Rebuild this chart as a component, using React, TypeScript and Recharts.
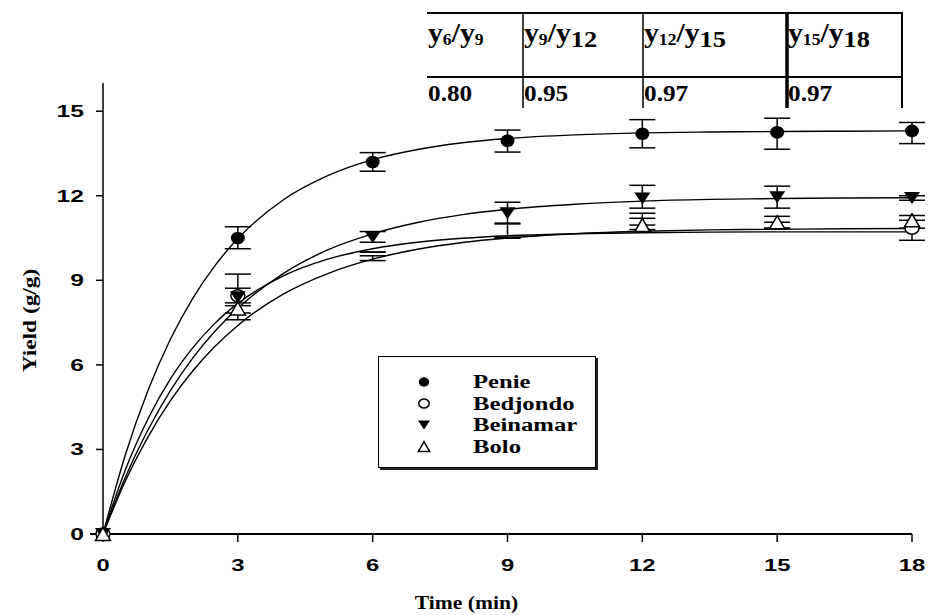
import React from 'react';
import { ComposedChart, Line, Scatter, XAxis, YAxis, ErrorBar, Legend, Label } from 'recharts';

// ---- fitted curves ----
const fitTimes = [0, 0.5, 1, 1.5, 2, 2.5, 3, 4, 5, 6, 7, 8, 9, 10.5, 12, 13.5, 15, 16.5, 18];
const penieFit = [0, 2.82, 5.09, 6.91, 8.37, 9.54, 10.48, 11.84, 12.71, 13.28, 13.64, 13.88, 14.03, 14.16, 14.23, 14.26, 14.28, 14.29, 14.3];
const bedjondoFit = [0, 2.29, 4.08, 5.5, 6.61, 7.49, 8.18, 9.15, 9.75, 10.12, 10.35, 10.49, 10.58, 10.65, 10.69, 10.71, 10.72, 10.72, 10.72];
const beinamarFit = [0, 2.02, 3.69, 5.09, 6.25, 7.21, 8.01, 9.23, 10.08, 10.65, 11.05, 11.33, 11.52, 11.7, 11.81, 11.87, 11.9, 11.92, 11.93];
const boloFit = [0, 1.89, 3.44, 4.73, 5.79, 6.67, 7.4, 8.5, 9.24, 9.75, 10.1, 10.34, 10.5, 10.65, 10.74, 10.79, 10.81, 10.83, 10.84];

// ---- observations ----
const obsTimes = [0, 3, 6, 9, 12, 15, 18];
const penieObs = [0, 10.5, 13.2, 13.95, 14.2, 14.25, 14.3];
const penieErrLow = [0, 0.38, 0.33, 0.4, 0.5, 0.6, 0.45];
const penieErrHigh = [0, 0.4, 0.33, 0.38, 0.5, 0.5, 0.3];
const penieShown = [true, true, true, true, true, true, true];

const bedjondoObs = [0, 8.45, 10.0, 10.53, 10.8, 10.85, 10.85];
const bedjondoErrLow = [0, 0.85, 0, 0, 0, 0, 0.43];
const bedjondoErrHigh = [0, 0.77, 0, 0.5, 0.4, 0, 0];
const bedjondoShown = [true, true, false, false, false, false, true];

const beinamarObs = [0, 8.4, 10.53, 11.38, 11.9, 11.95, 11.92];
const beinamarErrLow = [0, 0.3, 0.18, 0.38, 0.34, 0.39, 0.08];
const beinamarErrHigh = [0, 0.32, 0.2, 0.39, 0.47, 0.39, 0.08];
const beinamarShown = [true, true, true, true, true, true, true];

const boloObs = [0, 8.0, 9.7, 10.5, 10.96, 11.06, 11.13];
const boloErrLow = [0, 0.16, 0, 0, 0, 0, 0];
const boloErrHigh = [0, 0.2, 0.17, 0, 0.42, 0.21, 0.17];
const boloShown = [true, true, false, false, true, true, true];

const seriesNames = ['Penie', 'Bedjondo', 'Beinamar', 'Bolo'];
const xTicks = [0, 3, 6, 9, 12, 15, 18];
const yTicks = [0, 3, 6, 9, 12, 15];

// ---- ratio table ----
const ratioNum = ['6', '9', '12', '15'];
const ratioDen = ['9', '12', '15', '18'];
const ratioValues = ['0.80', '0.95', '0.97', '0.97'];

const fitData = fitTimes.map((t, i) => ({
  t,
  Penie: penieFit[i],
  Bedjondo: bedjondoFit[i],
  Beinamar: beinamarFit[i],
  Bolo: boloFit[i],
}));

const mkObs = (vals: number[], lo: number[], hi: number[], shown: boolean[]) =>
  obsTimes.map((t, i) => ({ t, y: vals[i], err: [lo[i], hi[i]], show: shown[i] }));

const penieData = mkObs(penieObs, penieErrLow, penieErrHigh, penieShown);
const bedjondoData = mkObs(bedjondoObs, bedjondoErrLow, bedjondoErrHigh, bedjondoShown);
const beinamarData = mkObs(beinamarObs, beinamarErrLow, beinamarErrHigh, beinamarShown);
const boloData = mkObs(boloObs, boloErrLow, boloErrHigh, boloShown);

const SERIF = "'Liberation Serif', 'Times New Roman', serif";
const SANS = "'Liberation Sans', Arial, sans-serif";

type Kind = 'filledCircle' | 'openCircle' | 'downTri' | 'upTri';

function Marker({ kind, cx, cy, s = 1 }: { kind: Kind; cx: number; cy: number; s?: number }) {
  if (kind === 'filledCircle') return <ellipse cx={cx} cy={cy} rx={7 * s} ry={6.3 * s} fill="#000" />;
  if (kind === 'openCircle')
    return <ellipse cx={cx} cy={cy} rx={7 * s} ry={6 * s} fill="#fff" stroke="#000" strokeWidth={1.5} />;
  if (kind === 'downTri') {
    const w = 8 * s, h = 6 * s;
    return <path d={`M${cx - w},${cy - h}L${cx + w},${cy - h}L${cx},${cy + h}Z`} fill="#000" />;
  }
  const w = 7.5 * s, h = 6.5 * s;
  return (
    <path d={`M${cx - w},${cy + h}L${cx + w},${cy + h}L${cx},${cy - h}Z`} fill="#fff" stroke="#000" strokeWidth={1.5} />
  );
}

const makeShape = (kind: Kind) => (props: any) => {
  const { cx, cy, payload } = props;
  if (!payload || !payload.show || cx == null || cy == null) return <g />;
  return <Marker kind={kind} cx={cx} cy={cy} />;
};

const kinds: Kind[] = ['filledCircle', 'openCircle', 'downTri', 'upTri'];

function YTick(props: any) {
  const { x, y, payload } = props;
  return (
    <g transform={`translate(${x - 10},${y})`}>
      <text x={0} y={0} dy={6} textAnchor="end" transform="scale(1.45,1)" fontFamily={SANS} fontWeight="bold" fontSize={17} fill="#000">
        {payload.value}
      </text>
    </g>
  );
}

function XTick(props: any) {
  const { x, y, payload } = props;
  return (
    <g transform={`translate(${x},${y})`}>
      <text x={0} y={0} dy={27} textAnchor="middle" transform="scale(1.4,1)" fontFamily={SANS} fontWeight="bold" fontSize={17} fill="#000">
        {payload.value}
      </text>
    </g>
  );
}

function LegendBox() {
  return (
    <div
      style={{
        width: 218,
        height: 112,
        border: '1px solid #000',
        boxShadow: '2px 2px 0 #222',
        background: '#fff',
        boxSizing: 'border-box',
      }}
    >
      <svg width={216} height={110}>
        {seriesNames.map((name, i) => {
          const cy = 25 + i * 21.5;
          return (
            <g key={name}>
              <Marker kind={kinds[i]} cx={45} cy={cy} s={0.75} />
              <text
                transform={`translate(94,${cy + 6}) scale(1.3,1)`}
                fontFamily={SERIF}
                fontWeight="bold"
                fontSize={19}
                fill="#000"
              >
                {name}
              </text>
            </g>
          );
        })}
      </svg>
    </div>
  );
}

const colX = [427, 523, 643, 787];
const tableRight = 902;

function RatioTable() {
  return (
    <svg width={928} height={120} style={{ position: 'absolute', left: 0, top: 0, pointerEvents: 'none' }}>
      <line x1={427} y1={13} x2={tableRight} y2={13} stroke="#000" strokeWidth={2} />
      <line x1={427} y1={77} x2={tableRight} y2={77} stroke="#000" strokeWidth={2} />
      <line x1={523} y1={12} x2={523} y2={108} stroke="#000" strokeWidth={1.5} />
      <line x1={643} y1={12} x2={643} y2={108} stroke="#000" strokeWidth={1.5} />
      <line x1={787} y1={12} x2={787} y2={108} stroke="#000" strokeWidth={3.5} />
      <line x1={tableRight} y1={12} x2={tableRight} y2={108} stroke="#000" strokeWidth={2} />
      {ratioNum.map((n, i) => {
        const big = i > 0;
        return (
          <text
            key={'h' + i}
            transform={`translate(${colX[i] + 1},42) scale(1.1,1)`}
            fontFamily={SERIF}
            fontWeight="bold"
            fontSize={27}
            fill="#000"
          >
            <tspan>y</tspan>
            <tspan fontSize={16} dy={3}>{n}</tspan>
            <tspan dy={-3}>/</tspan>
            <tspan>y</tspan>
            <tspan fontSize={big ? 24 : 16} dy={big ? 5 : 3}>{ratioDen[i]}</tspan>
          </text>
        );
      })}
      {ratioValues.map((v, i) => (
        <text
          key={'v' + i}
          transform={`translate(${colX[i] + 1},101) scale(1.1,1)`}
          fontFamily={SERIF}
          fontWeight="bold"
          fontSize={23}
          fill="#000"
        >
          {v}
        </text>
      ))}
    </svg>
  );
}

export default function App() {
  return (
    <div style={{ position: 'absolute', left: 0, top: 0, width: 928, height: 615, background: '#fff' }}>
      <ComposedChart width={928} height={615} data={fitData} margin={{ top: 83, right: 16, bottom: 21, left: 43 }}>
        <XAxis
          dataKey="t"
          type="number"
          domain={[0, 18]}
          ticks={xTicks}
          interval={0}
          height={60}
          stroke="#000"
          strokeWidth={2}
          tickSize={8}
          tickLine={{ stroke: '#000', strokeWidth: 1.5 }}
          tick={<XTick />}
        >
          <Label
            content={(p: any) => {
              const vb = p.viewBox || { x: 103, y: 534, width: 809 };
              const cx = vb.x + vb.width / 2 - 41;
              return (
                <text
                  transform={`translate(${cx},${vb.y + 75}) scale(1.2,1)`}
                  textAnchor="middle"
                  fontFamily={SERIF}
                  fontWeight="bold"
                  fontSize={18}
                  fill="#000"
                >
                  Time (min)
                </text>
              );
            }}
          />
        </XAxis>
        <YAxis
          type="number"
          domain={[0, 16]}
          ticks={yTicks}
          interval={0}
          width={60}
          stroke="#000"
          strokeWidth={1.5}
          tickSize={7}
          tickLine={{ stroke: '#000', strokeWidth: 1.5 }}
          tick={<YTick />}
        >
          <Label
            content={(p: any) => {
              const vb = p.viewBox || { x: 43, y: 83, height: 451 };
              const cy = vb.y + vb.height / 2 + 12;
              return (
                <text
                  transform={`translate(36,${cy}) rotate(-90) scale(1.3,1)`}
                  textAnchor="middle"
                  fontFamily={SERIF}
                  fontWeight="bold"
                  fontSize={18}
                  fill="#000"
                >
                  Yield (g/g)
                </text>
              );
            }}
          />
        </YAxis>
        <Legend
          layout="horizontal"
          verticalAlign="middle"
          align="center"
          wrapperStyle={{ left: 378, top: 356, width: 220, height: 114 }}
          content={() => <LegendBox />}
        />
        {seriesNames.map((name) => (
          <Line
            key={'l' + name}
            type="monotone"
            dataKey={name}
            stroke="#000"
            strokeWidth={1.4}
            dot={false}
            activeDot={false}
            isAnimationActive={false}
            legendType="none"
          />
        ))}
        <Scatter name="Penie" data={penieData} dataKey="y" shape={makeShape('filledCircle')} isAnimationActive={false}>
          <ErrorBar dataKey="err" direction="y" width={13} stroke="#000" strokeWidth={1.5} />
        </Scatter>
        <Scatter name="Bedjondo" data={bedjondoData} dataKey="y" shape={makeShape('openCircle')} isAnimationActive={false}>
          <ErrorBar dataKey="err" direction="y" width={13} stroke="#000" strokeWidth={1.5} />
        </Scatter>
        <Scatter name="Beinamar" data={beinamarData} dataKey="y" shape={makeShape('downTri')} isAnimationActive={false}>
          <ErrorBar dataKey="err" direction="y" width={13} stroke="#000" strokeWidth={1.5} />
        </Scatter>
        <Scatter name="Bolo" data={boloData} dataKey="y" shape={makeShape('upTri')} isAnimationActive={false}>
          <ErrorBar dataKey="err" direction="y" width={13} stroke="#000" strokeWidth={1.5} />
        </Scatter>
      </ComposedChart>
      <RatioTable />
    </div>
  );
}
